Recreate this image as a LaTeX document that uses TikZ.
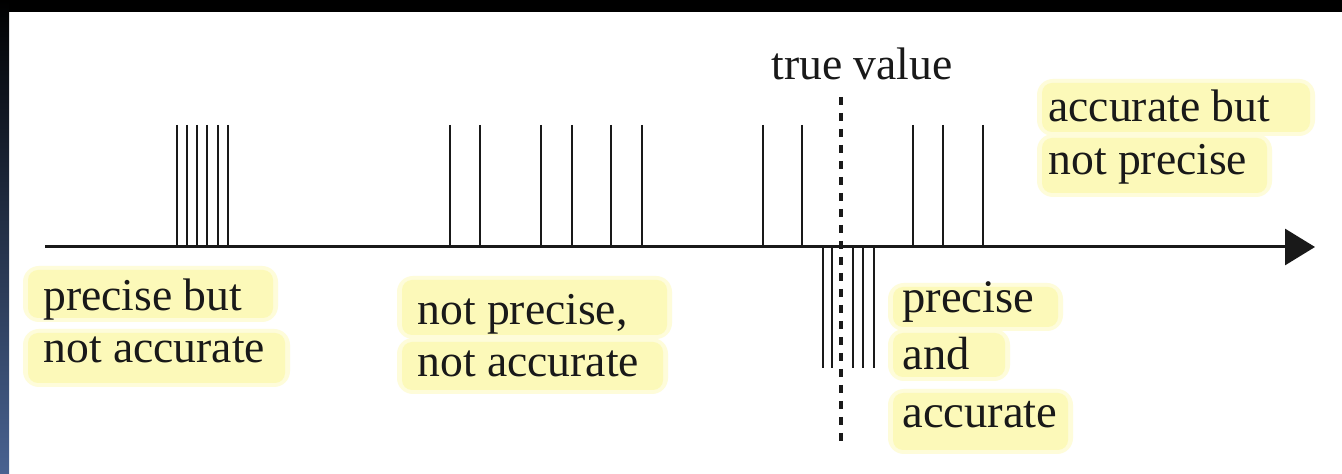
\documentclass[tikz,border=0pt]{standalone}
\usepackage{fontspec}
\setmainfont{Liberation Serif}
\usetikzlibrary{arrows.meta}
\definecolor{hl}{RGB}{252,249,185}
\definecolor{hlsoft}{RGB}{254,252,218}
\definecolor{edgeblue}{RGB}{72,98,145}
\definecolor{ink}{RGB}{25,25,25}
\begin{document}
\begin{tikzpicture}[x=0.5pt,y=-0.5pt,
  lbl/.style={anchor=base west, inner sep=0pt, text=ink, font=\fontsize{22.8}{26}\selectfont},
  hlbox/.style={fill=hl, rounded corners=5pt},
  hlhalo/.style={fill=hlsoft, rounded corners=8pt},
  mstroke/.style={line width=1.1pt, draw=ink},
  axisline/.style={line width=1.5pt, draw=ink, -{Triangle[length=15pt,width=18pt]}},
  truth/.style={line width=1.6pt, draw=ink, dash pattern=on 4pt off 4pt}]
\useasboundingbox (0,0) rectangle (1342,474);
\fill[white] (0,0) rectangle (1342,474);
% frame
\fill[black] (0,0) rectangle (1342,12);
\shade[top color=black, bottom color=edgeblue] (0,0) rectangle (9,474);
% highlights
\foreach \a/\b/\c/\d in {28/270/273/318, 28/333/285/383, 402/280/667/335, 402/342/663/390,
  893/287/1058/327, 893/333/1005/377, 893/393/1068/450, 1042/83/1310/132, 1042/138/1267/193}{
  \fill[hlhalo] (\a-5,\b-4) rectangle (\c+5,\d+4);
  \fill[hlbox] (\a,\b) rectangle (\c,\d);
}
% true value line
\coordinate (tvtop) at (841,97);
\coordinate (tvbot) at (841,447);
\draw[truth] (tvtop) -- (tvbot);
% axis
\coordinate (axs) at (45,247);
\coordinate (axe) at (1315,247);
% marks above axis
\foreach \x in {177,187,197,207,218,228, 450,480,541,572,611,642, 763,802,913,943,983}{
  \draw[mstroke] (\x,125) -- (\x,247);
}
% marks below axis
\foreach \x in {823,832,853,863,874}{
  \draw[mstroke] (\x,247) -- (\x,368);
}
\draw[axisline] (axs) -- (axe);
% labels
\node[lbl] (pb1) at (43,311) {precise but};
\node[lbl] (pb2) at (43,363) {not accurate};
\node[lbl] (np1) at (417,325) {not precise,};
\node[lbl] (np2) at (417,377) {not accurate};
\node[lbl] (tv) at (771,80) {true value};
\node[lbl,font=\fontsize{23.3}{26}\selectfont] (pa1) at (902,313) {precise};
\node[lbl,font=\fontsize{23.3}{26}\selectfont] (pa2) at (902,370) {and};
\node[lbl,font=\fontsize{23.3}{26}\selectfont] (pa3) at (902,428) {accurate};
\node[lbl] (ab1) at (1048,122) {accurate but};
\node[lbl] (ab2) at (1048,175) {not precise};
\end{tikzpicture}
\end{document}
